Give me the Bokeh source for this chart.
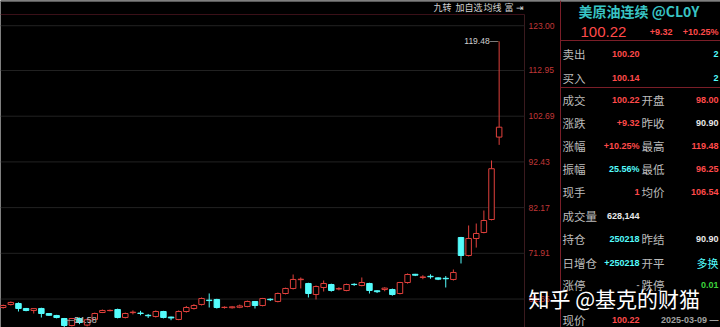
from bokeh.plotting import figure
from bokeh.models import Range1d, ColumnDataSource
from bokeh.embed import file_html
from bokeh.resources import INLINE
from bokeh.core.properties import value

# ---------------- data ----------------
opens = [59.75, 60.43, 60.65, 59.53, 59.08, 59.53, 58.40, 57.96, 57.28, 55.71,
         57.28, 55.80, 57.06, 58.63, 59.05, 59.30, 57.51, 58.60, 58.50, 58.00,
         57.73, 58.85, 57.60, 57.06, 58.85, 59.53, 60.43, 61.40, 61.55, 59.75,
         59.70, 59.80, 59.98, 61.10, 60.20, 61.60, 61.10, 62.89, 64.02, 66.00,
         65.14, 62.67, 64.24, 64.91, 63.90, 63.57, 64.95, 64.69, 65.14, 63.50,
         63.80, 63.79, 62.89, 65.36, 67.20, 66.50, 66.75, 66.40, 66.30, 66.04,
         75.46, 71.42, 75.24, 76.59, 79.50, 98.00]
highs = [60.40, 61.10, 60.90, 59.65, 59.60, 59.70, 58.50, 58.10, 57.40, 57.40,
         57.50, 57.30, 58.60, 59.30, 59.30, 59.50, 58.60, 59.10, 59.00, 58.30,
         59.10, 59.00, 57.70, 59.10, 60.10, 60.50, 62.00, 62.90, 61.70, 60.00,
         60.10, 60.40, 61.30, 61.20, 61.90, 61.80, 63.10, 64.20, 67.16, 66.49,
         65.30, 64.70, 65.81, 65.10, 64.30, 65.10, 65.20, 66.49, 65.30, 63.60,
         64.30, 64.00, 65.50, 67.40, 67.30, 67.00, 67.20, 66.50, 66.80, 68.28,
         75.60, 78.16, 78.60, 81.52, 92.75, 119.48]
lows = [59.50, 60.20, 58.85, 58.90, 58.40, 57.50, 57.90, 57.30, 54.58, 55.50,
        56.00, 55.50, 56.90, 58.50, 58.90, 57.30, 57.30, 58.20, 58.00, 57.40,
        57.50, 57.30, 56.90, 56.90, 58.60, 59.30, 60.20, 59.75, 59.50, 59.50,
        59.50, 59.60, 59.80, 59.53, 60.00, 61.20, 60.90, 62.70, 63.80, 64.02,
        62.00, 61.55, 63.34, 63.30, 63.60, 63.40, 64.60, 64.50, 62.89, 63.00,
        63.40, 62.40, 62.70, 65.10, 66.80, 66.10, 66.20, 65.90, 64.24, 65.80,
        69.63, 71.20, 73.20, 76.40, 79.30, 96.25]
closes = [60.20, 60.88, 59.53, 59.08, 59.50, 58.40, 58.00, 57.50, 55.71, 57.28,
          56.39, 57.00, 58.40, 59.08, 59.10, 57.51, 58.40, 58.70, 58.40, 57.90,
          58.85, 57.51, 57.40, 58.85, 59.75, 60.20, 61.77, 61.30, 59.75, 59.80,
          59.90, 60.10, 61.10, 60.20, 61.77, 61.50, 62.89, 64.02, 66.04, 66.10,
          62.89, 64.46, 65.14, 63.57, 64.00, 64.91, 64.90, 65.36, 63.57, 63.30,
          64.10, 62.67, 65.36, 67.16, 67.00, 66.60, 66.65, 66.10, 66.20, 67.61,
          71.42, 75.24, 76.36, 79.28, 90.90, 100.22]

price_ticks = [123.00, 112.95, 102.69, 92.43, 82.17, 71.91, 61.65]
tick_labels = ["123.00", "112.95", "102.69", "92.43", "82.17", "71.91", "61.65"]

toolbar_items = ["九转", "加自选", "均线", "富", "⇥"]

title_name = "美原油连续 @CL0Y"
last_price = "100.22"
change = "+9.32"
change_pct = "+10.25%"

row_labels = ["卖出", "买入", "成交", "涨跌", "涨幅", "振幅", "现手", "成交量",
              "持仓", "日增仓", "涨停", "现价"]
row_values = ["100.20", "100.14", "100.22", "+9.32", "+10.25%", "25.56%", "1",
              "628,144", "250218", "+250218", "-", "100.22"]
mid_labels = ["", "", "开盘", "昨收", "最高", "最低", "均价", "", "昨结", "开平", "跌停", ""]
right_values = ["2", "2", "98.00", "90.90", "119.48", "96.25", "106.54", "",
                "90.90", "多换", "0.01", "2025-03-09 —"]
watermark = "知乎 @基克的财猫"

# ---------------- style / layout ----------------
RED = "#ff4a4a"
CANDLE_RED = "#e0403c"
CYAN = "#54fcfc"
WHITE = "#e8e8e8"
GRAY = "#bcbcbc"
DIM = "#a0a0a0"
GREEN = "#3cd23c"
TEAL = "#38c4c4"
AXIS_RED = "#c03838"
LINE_RED = "#7a1e28"

val_colors = [RED, RED, RED, RED, RED, CYAN, RED, WHITE, CYAN, CYAN, DIM, RED]
right_colors = [CYAN, CYAN, RED, WHITE, RED, RED, RED, WHITE, WHITE, CYAN, GREEN, DIM]
row_y = [53, 77, 99, 122, 145, 168, 191, 215, 238, 262, 284, 319]
toolbar_x = [433, 455, 483, 504, 515]

W, H = 720, 327
STEP = 7.63          # px per candle
X0 = 2.7             # px of first candle
PLOT_R = 524         # right edge of chart area (px)
PANEL_L = 560
Y_TOP_PRICE = 128.66
Y_BOT_PRICE = 55.26

NUM_FONT = "Liberation Sans"
CJK_FONT = "Noto Sans CJK SC"

p = figure(width=W, height=H, output_backend="svg", toolbar_location=None,
           title=None,
           x_range=Range1d(-X0 / STEP, (W - X0) / STEP),
           y_range=Range1d(Y_BOT_PRICE, Y_TOP_PRICE),
           x_axis_location=None, y_axis_location=None, min_border=0,
           background_fill_color="black", border_fill_color="black",
           outline_line_color=None)
p.grid.visible = False
p.extra_x_ranges = {"px": Range1d(0, W)}
p.extra_y_ranges = {"py": Range1d(H, 0)}

# frame lines
def hline(x0, x1, y, color, yname="py"):
    p.segment(x0=[x0], x1=[x1], y0=[y], y1=[y], line_color=color, line_width=1,
              x_range_name="px", y_range_name=yname)

def vline(x, y0, y1, color):
    p.segment(x0=[x], x1=[x], y0=[y0], y1=[y1], line_color=color, line_width=1,
              x_range_name="px", y_range_name="py")

hline(0, W, 1, "#5a5a5a")
hline(0, PLOT_R, 14, "#3a1018")
vline(PLOT_R, 14, H, "#3a1a1e")
vline(PANEL_L, 0, H, LINE_RED)
hline(PANEL_L, W, 40, LINE_RED)
hline(PANEL_L, W, 87, LINE_RED)

# price grid + labels
gsrc = ColumnDataSource(dict(x0=[0] * len(price_ticks), x1=[PLOT_R] * len(price_ticks),
                             y=price_ticks, lab=tick_labels,
                             lx=[528] * len(price_ticks)))
p.segment(x0="x0", x1="x1", y0="y", y1="y", source=gsrc, line_color="#222222",
          line_width=1, x_range_name="px")
p.text(x="lx", y="y", text="lab", source=gsrc, x_range_name="px",
       text_color=AXIS_RED, text_font=value(NUM_FONT), text_font_size="8.5px",
       text_align="left", text_baseline="middle")

# candles
idx = list(range(len(opens)))
up = dict(x=[], o=[], c=[], h=[], l=[], bt=[], bb=[])
dn = dict(x=[], o=[], c=[], h=[], l=[])
for i, o, h, l, c in zip(idx, opens, highs, lows, closes):
    if c >= o:
        up["x"].append(i); up["o"].append(o); up["c"].append(c)
        up["h"].append(h); up["l"].append(l)
        up["bt"].append(max(o, c)); up["bb"].append(min(o, c))
    else:
        dn["x"].append(i); dn["o"].append(o); dn["c"].append(c)
        dn["h"].append(h); dn["l"].append(l)
usrc = ColumnDataSource(up)
dsrc = ColumnDataSource(dn)
BW = 0.72
p.segment(x0="x", x1="x", y0="h", y1="bt", source=usrc, line_color=CANDLE_RED, line_width=1)
p.segment(x0="x", x1="x", y0="bb", y1="l", source=usrc, line_color=CANDLE_RED, line_width=1)
p.vbar(x="x", top="c", bottom="o", width=BW, source=usrc, fill_color="black",
       line_color=CANDLE_RED, line_width=1)
p.segment(x0="x", x1="x", y0="h", y1="l", source=dsrc, line_color=CYAN, line_width=1)
p.vbar(x="x", top="o", bottom="c", width=BW, source=dsrc, fill_color=CYAN,
       line_color=CYAN, line_width=1)

# high / low markers
hi_i = max(idx, key=lambda k: highs[k])
lo_i = min(idx, key=lambda k: lows[k])
p.text(x=[hi_i], y=[highs[hi_i]], text=["%.2f—" % highs[hi_i]], x_offset=-1,
       text_color="#d0d0d0", text_font=value(NUM_FONT), text_font_size="8.5px",
       text_align="right", text_baseline="middle")
p.text(x=[lo_i], y=[lows[lo_i]], text=["—%.2f" % lows[lo_i]], x_offset=1, y_offset=-6,
       text_color="#c0c0c0", text_font=value(NUM_FONT), text_font_size="9px",
       text_align="left", text_baseline="bottom")

# panel text helper
def txt(xs, ys, texts, colors, size, font, align="left", weight="normal"):
    src = ColumnDataSource(dict(x=xs, y=ys, t=texts, c=colors))
    p.text(x="x", y="y", text="t", text_color="c", source=src,
           x_range_name="px", y_range_name="py", text_font=value(font),
           text_font_size=size, text_align=align, text_baseline="middle",
           text_font_style=weight)

# toolbar
txt(toolbar_x, [7] * len(toolbar_items), toolbar_items, ["#d0d0d0"] * len(toolbar_items),
    "9px", CJK_FONT)

# header
txt([578], [10], [title_name], [TEAL], "14px", CJK_FONT, weight="bold")
txt([580], [31], [last_price], [RED], "15px", NUM_FONT)
txt([672], [31], [change], [RED], "9px", NUM_FONT, align="right", weight="bold")
txt([718], [31], [change_pct], [RED], "9px", NUM_FONT, align="right", weight="bold")

# rows
txt([562] * len(row_labels), row_y, row_labels, [GRAY] * len(row_labels), "11.5px", CJK_FONT)
txt([639] * len(row_values), row_y, row_values, val_colors, "9px", NUM_FONT,
    align="right", weight="bold")
mk = [k for k, s in enumerate(mid_labels) if s]
txt([641] * len(mk), [row_y[k] for k in mk], [mid_labels[k] for k in mk],
    [GRAY] * len(mk), "11.5px", CJK_FONT)
rk_num = [k for k, s in enumerate(right_values) if s and s != "多换"]
txt([718] * len(rk_num), [row_y[k] for k in rk_num], [right_values[k] for k in rk_num],
    [right_colors[k] for k in rk_num], "9px", NUM_FONT, align="right", weight="bold")
rk_cjk = [k for k, s in enumerate(right_values) if s == "多换"]
txt([718] * len(rk_cjk), [row_y[k] for k in rk_cjk], [right_values[k] for k in rk_cjk],
    [right_colors[k] for k in rk_cjk], "11px", CJK_FONT, align="right")

# watermark
txt([528], [297], [watermark], ["#ffffff"], "21px", CJK_FONT)

open("out.html", "w").write(file_html(p, INLINE))
